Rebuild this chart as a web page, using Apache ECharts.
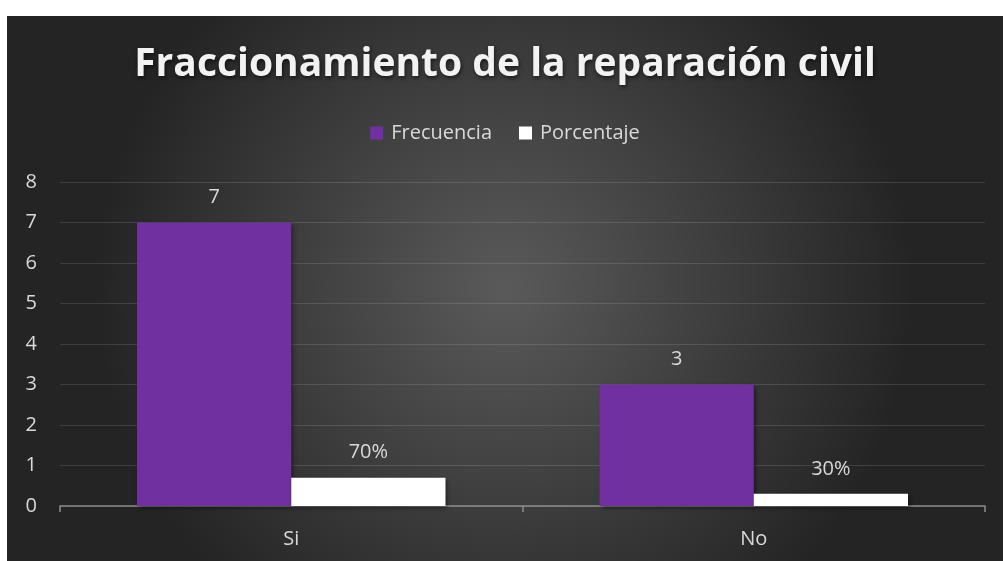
<!DOCTYPE html>
<html>
<head>
<meta charset="utf-8">
<script src="https://cdn.jsdelivr.net/npm/echarts@6/dist/echarts.min.js"></script>
<style>
html,body{margin:0;padding:0;background:#ffffff;}
#chart{position:absolute;left:7px;top:16px;width:996px;height:545px;}
</style>
</head>
<body>
<div id="chart"></div>
<script>
const categories = ['Si', 'No'];
const frecuencia = [7, 3];
const porcentaje = [0.7, 0.3];
const yTicks = [0, 1, 2, 3, 4, 5, 6, 7, 8];

const FONT = 'Open Sans';
const chart = echarts.init(document.getElementById('chart'));
chart.setOption({
  backgroundColor: {
    type: 'radial', x: 0.5, y: 0.5, r: 0.75,
    colorStops: [{offset: 0, color: '#5a5a5a'}, {offset: 1, color: '#242424'}]
  },
  animation: false,
  title: {
    text: 'Fraccionamiento de la reparación civil',
    left: 'center', top: 24,
    textStyle: {
      fontFamily: FONT, fontWeight: 'bold', fontSize: 39, color: '#f2f2f2',
      textShadowColor: 'rgba(0,0,0,0.6)', textShadowBlur: 4, textShadowOffsetX: 1, textShadowOffsetY: 2
    }
  },
  legend: {
    top: 102, left: 'center',
    itemWidth: 13, itemHeight: 13, itemGap: 27,
    icon: 'rect',
    textStyle: {fontFamily: FONT, fontSize: 20, color: '#d9d9d9', padding: [0, 0, 0, 3]},
    data: ['Frecuencia', 'Porcentaje']
  },
  grid: {left: 53, right: 18, top: 166, bottom: 55, containLabel: false},
  xAxis: {
    type: 'category', data: categories,
    axisLine: {lineStyle: {color: '#8c8c8c', width: 1.5}},
    axisTick: {show: true, length: 6, lineStyle: {color: '#8c8c8c', width: 1.5}},
    axisLabel: {fontFamily: FONT, fontSize: 20, color: '#d9d9d9', margin: 23}
  },
  yAxis: {
    type: 'value', min: yTicks[0], max: yTicks[yTicks.length - 1], interval: 1,
    axisLine: {show: false}, axisTick: {show: false},
    axisLabel: {fontFamily: FONT, fontSize: 20, color: '#d9d9d9', margin: 23},
    splitLine: {lineStyle: {color: 'rgba(255,255,255,0.12)', width: 1}}
  },
  series: [
    {
      name: 'Frecuencia', type: 'bar', data: frecuencia,
      barGap: '0%', barCategoryGap: '33.3%',
      itemStyle: {color: '#7030a0', shadowColor: 'rgba(0,0,0,0.45)', shadowBlur: 4, shadowOffsetX: 2, shadowOffsetY: 2},
      label: {show: true, position: 'top', distance: 15, fontFamily: FONT, fontSize: 20, color: '#d9d9d9'}
    },
    {
      name: 'Porcentaje', type: 'bar', data: porcentaje,
      itemStyle: {color: '#ffffff', shadowColor: 'rgba(0,0,0,0.45)', shadowBlur: 4, shadowOffsetX: 2, shadowOffsetY: 2},
      label: {show: true, position: 'top', distance: 15, fontFamily: FONT, fontSize: 20, color: '#d9d9d9',
        formatter: p => Math.round(p.value * 100) + '%'}
    }
  ]
});
</script>
</body>
</html>
